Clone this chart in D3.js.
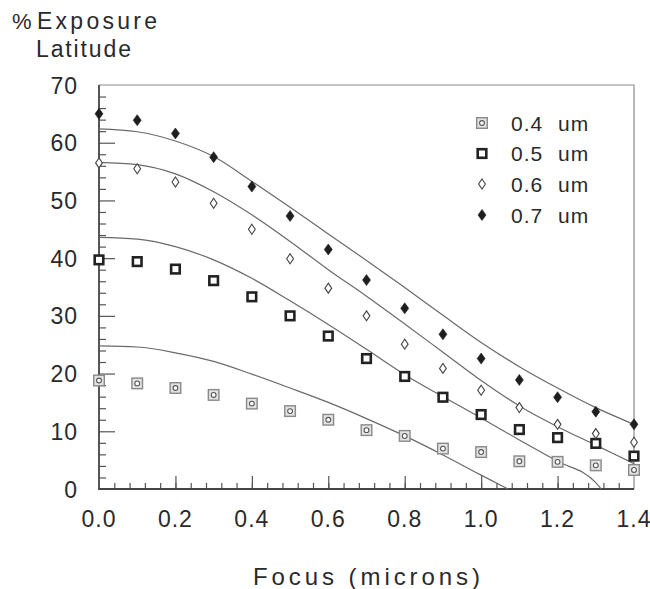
<!DOCTYPE html>
<html><head><meta charset="utf-8">
<script src="https://cdn.jsdelivr.net/npm/d3@7"></script>
<style>
html,body{margin:0;padding:0;background:#fff;}
svg{display:block;font-family:"Liberation Sans",Arial,Helvetica,sans-serif;}
</style></head>
<body>
<svg id="chart" width="650" height="589"></svg>
<script>
// ---- data ----
const focus = [0.0,0.1,0.2,0.3,0.4,0.5,0.6,0.7,0.8,0.9,1.0,1.1,1.2,1.3,1.4];
const lat04 = [18.8,18.3,17.5,16.3,14.8,13.5,12.0,10.2,9.2,7.0,6.4,4.8,4.7,4.1,3.3];
const lat05 = [39.7,39.4,38.1,36.1,33.3,30.0,26.5,22.6,19.5,15.9,12.9,10.3,8.9,7.9,5.7];
const lat06 = [56.5,55.5,53.2,49.5,45.0,39.9,34.8,30.0,25.1,20.9,17.1,14.1,11.2,9.6,8.1];
const lat07 = [65.0,63.9,61.6,57.5,52.4,47.3,41.5,36.2,31.3,26.8,22.6,18.9,15.9,13.4,11.2];

const fitX07 = [0.0,0.1,0.2,0.3,0.4,0.5,0.6,0.7,0.8,0.9,1.0,1.1,1.2,1.3,1.4];
const fitY07 = [62.4,61.9,60.3,57.6,53.3,48.8,44.2,39.6,34.9,30.1,25.4,21.2,17.5,14.1,11.2];
const fitX06 = [0.0,0.1,0.2,0.3,0.4,0.5,0.6,0.7,0.8,0.9,1.0,1.1,1.2,1.3,1.4];
const fitY06 = [56.6,56.2,54.6,51.5,47.5,42.9,38.0,33.4,28.6,23.7,18.8,14.4,10.8,7.6,4.4];
const fitX05 = [0.0,0.1,0.2,0.3,0.4,0.5,0.6,0.7,0.8,0.9,1.0,1.1,1.2,1.3,1.314];
const fitY05 = [43.6,43.3,42.0,39.7,36.5,32.6,28.5,24.2,19.8,16.0,12.3,8.5,4.8,1.1,0.0];
const fitX04 = [0.0,0.1,0.2,0.3,0.4,0.5,0.6,0.7,0.8,0.9,1.0,1.07];
const fitY04 = [24.8,24.6,23.6,22.1,19.9,17.5,15.0,12.2,9.2,5.9,2.4,0.0];

const seriesNames = ["0.4","0.5","0.6","0.7"];
const xTickLabels = ["0.0","0.2","0.4","0.6","0.8","1.0","1.2","1.4"];
const yTickLabels = ["0","10","20","30","40","50","60","70"];
const xTitle = "Focus  (microns)";
const yTitle1 = "Exposure";
const yTitle2 = "Latitude";

// ---- layout ----
const svg = d3.select("#chart");
const L = 99, R = 634, T = 85, B = 489;
const x = d3.scaleLinear().domain([0,1.4]).range([L,R]);
const y = d3.scaleLinear().domain([0,70]).range([B,T]);
const ink = "#2a2a2a";

// frame (top/right)
svg.append("path").attr("d",`M${L},${T}H${R}V${B}`).attr("fill","none")
  .attr("stroke","#8a8a8a").attr("stroke-width",1.2);

// minor/major ticks via axes
const xMinor = d3.range(0,36).map(i=>i*0.04).filter(v=>v>0.001 && v<1.399);
const yMinor = d3.range(1,35).map(i=>i*2);
svg.append("g").attr("transform",`translate(0,${B})`)
  .call(d3.axisTop(x).tickValues(xMinor).tickSize(6).tickFormat(""))
  .call(g=>{g.select(".domain").remove();g.selectAll("line").attr("stroke","#555").attr("stroke-width",1.2);});
svg.append("g").attr("transform",`translate(0,${B})`)
  .call(d3.axisTop(x).tickValues([0.2,0.4,0.6,0.8,1.0,1.2]).tickSize(13).tickFormat(""))
  .call(g=>{g.select(".domain").remove();g.selectAll("line").attr("stroke","#555").attr("stroke-width",1.2);});
svg.append("g").attr("transform",`translate(${L},0)`)
  .call(d3.axisRight(y).tickValues(yMinor.filter(v=>v%10!==0)).tickSize(7).tickFormat(""))
  .call(g=>{g.select(".domain").remove();g.selectAll("line").attr("stroke","#555").attr("stroke-width",1.2);});
svg.append("g").attr("transform",`translate(${L},0)`)
  .call(d3.axisRight(y).tickValues([10,20,30,40,50,60]).tickSize(16).tickFormat(""))
  .call(g=>{g.select(".domain").remove();g.selectAll("line").attr("stroke","#555").attr("stroke-width",1.2);});

// main axes lines
svg.append("path").attr("d",`M${L},${T}V${B}H${R}`).attr("fill","none")
  .attr("stroke","#444").attr("stroke-width",1.8);

// tick labels
svg.append("g").selectAll("text").data(xTickLabels).join("text")
  .attr("x",d=>x(+d)).attr("y",527).attr("text-anchor","middle")
  .attr("font-size",23).attr("letter-spacing",1).attr("fill",ink).text(d=>d);
svg.append("g").selectAll("text").data(yTickLabels).join("text")
  .attr("x",78).attr("y",d=>y(+d)+8.5).attr("text-anchor","end")
  .attr("font-size",23).attr("letter-spacing",1).attr("fill",ink).text(d=>d);

// titles
svg.append("text").attr("x",12).attr("y",29).attr("font-size",22).attr("fill",ink).text("%");
svg.append("text").attr("x",37).attr("y",29).attr("font-size",23).attr("fill",ink)
  .attr("textLength",120).attr("lengthAdjust","spacing").text(yTitle1);
svg.append("text").attr("x",36).attr("y",57).attr("font-size",23).attr("fill",ink)
  .attr("textLength",95).attr("lengthAdjust","spacing").text(yTitle2);
svg.append("text").attr("x",253).attr("y",585).attr("font-size",24).attr("fill",ink)
  .attr("textLength",227).attr("lengthAdjust","spacing").text(xTitle);

// fitted curves
const line = d3.line().x(d=>x(d[0])).y(d=>y(d[1])).curve(d3.curveMonotoneX);
[[fitX07,fitY07],[fitX06,fitY06],[fitX05,fitY05],[fitX04,fitY04]].forEach(([xs,ys])=>{
  svg.append("path").attr("d",line(xs.map((v,i)=>[v,ys[i]])))
    .attr("fill","none").attr("stroke","#6a6a6a").attr("stroke-width",1.2);
});

// markers
function drawMarker(g,type,cx,cy){
  if(type===0){
    g.append("rect").attr("x",cx-5.3).attr("y",cy-5.3).attr("width",10.6).attr("height",10.6)
      .attr("fill","#e2e2e2").attr("stroke","#8a8a8a").attr("stroke-width",1.4);
    g.append("circle").attr("cx",cx).attr("cy",cy).attr("r",2.4)
      .attr("fill","#fff").attr("stroke","#555").attr("stroke-width",1.1);
  } else if(type===1){
    g.append("rect").attr("x",cx-4.3).attr("y",cy-4.3).attr("width",8.6).attr("height",8.6)
      .attr("fill","#fff").attr("stroke","#222").attr("stroke-width",2.6);
  } else if(type===2){
    g.append("path").attr("d",`M${cx},${cy-5}L${cx+3.4},${cy}L${cx},${cy+5}L${cx-3.4},${cy}Z`)
      .attr("fill","#fff").attr("stroke","#444").attr("stroke-width",1.1);
  } else {
    g.append("path").attr("d",`M${cx},${cy-5.5}L${cx+4},${cy}L${cx},${cy+5.5}L${cx-4},${cy}Z`)
      .attr("fill","#1e1e1e").attr("stroke","#1e1e1e").attr("stroke-width",0.6);
  }
}
const allSeries = [lat04,lat05,lat06,lat07];
allSeries.forEach((vals,si)=>{
  const g = svg.append("g");
  vals.forEach((v,i)=>drawMarker(g,si,x(focus[i]),y(v)));
});

// legend
const legY = [123,153.5,184,215];
seriesNames.forEach((n,i)=>{
  const g = svg.append("g");
  drawMarker(g,i,482,legY[i]);
  g.append("text").attr("x",511).attr("y",legY[i]+7.5).attr("font-size",21)
    .attr("letter-spacing",1).attr("fill",ink).text(n);
  g.append("text").attr("x",558).attr("y",legY[i]+7.5).attr("font-size",21)
    .attr("letter-spacing",1).attr("fill",ink).text("um");
});
</script>
</body></html>
